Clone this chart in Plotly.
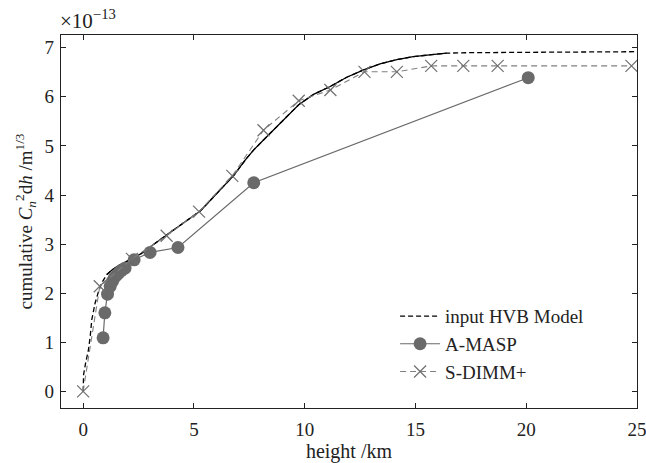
import plotly.graph_objects as go

# ---- data (values in units of 1e-13 m^(1/3)) ----
hvb_h = [0, 0.02, 0.1, 0.24, 0.32, 0.39, 0.54, 0.69, 0.85, 1.07, 1.3, 1.6, 2.04, 2.6, 3.05,
         3.72, 4.4, 5.3, 6.2, 6.8, 7.33, 7.7, 8.14, 8.9, 9.73, 10.4, 11.15, 11.9, 12.66,
         13.4, 14.16, 14.9, 15.66, 16.4, 17.46, 20.0, 25.0]
hvb_v = [0, 0.34, 0.55, 0.85, 1.12, 1.46, 1.80, 2.03, 2.22, 2.38, 2.47, 2.56, 2.66, 2.80, 2.95,
         3.16, 3.39, 3.68, 4.10, 4.40, 4.72, 4.92, 5.12, 5.47, 5.84, 6.05, 6.21, 6.40, 6.55,
         6.67, 6.76, 6.82, 6.86, 6.89, 6.90, 6.91, 6.92]

amasp_h = [0.90, 0.98, 1.10, 1.22, 1.32, 1.40, 1.50, 1.60, 1.72, 1.89, 2.30, 3.02, 4.28, 7.70, 20.09]
amasp_v = [1.09, 1.60, 1.98, 2.14, 2.24, 2.31, 2.36, 2.41, 2.46, 2.51, 2.68, 2.83, 2.93, 4.25, 6.39]

sdimm_h = [0, 0.75, 2.2, 3.77, 5.23, 6.73, 8.14, 9.73, 11.16, 12.70, 14.16, 15.71, 17.16, 18.71, 24.75]
sdimm_v = [0, 2.14, 2.70, 3.17, 3.66, 4.39, 5.32, 5.92, 6.14, 6.51, 6.51, 6.63, 6.63, 6.63, 6.63]

x_ticks = [0, 5, 10, 15, 20, 25]
y_ticks = [0, 1, 2, 3, 4, 5, 6, 7]

FONT = "Liberation Serif, Times New Roman, DejaVu Serif, serif"
TXT = "#222"

fig = go.Figure()

fig.add_trace(go.Scatter(
    x=hvb_h, y=hvb_v, mode="lines", name="input HVB Model",
    line=dict(color="black", width=1.3, dash="5px,3px")))

# dense (staircase-looking) middle part of the model curve
mid = [i for i, h in enumerate(hvb_h) if 1.0 <= h <= 16.4]
fig.add_trace(go.Scatter(
    x=[hvb_h[i] for i in mid], y=[hvb_v[i] for i in mid], mode="lines",
    showlegend=False, hoverinfo="skip",
    line=dict(color="black", width=1.3)))

fig.add_trace(go.Scatter(
    x=amasp_h, y=amasp_v, mode="lines+markers", name="A-MASP",
    line=dict(color="#6a6a6a", width=1.2),
    marker=dict(symbol="circle", size=13, color="#6a6a6a")))

fig.add_trace(go.Scatter(
    x=sdimm_h, y=sdimm_v, mode="lines+markers", name="S-DIMM+",
    line=dict(color="#808080", width=1.1, dash="6px,4px"),
    marker=dict(symbol="x-thin-open", size=12, color="#707070",
                line=dict(color="#707070", width=1.2))))

axis_common = dict(
    showgrid=False, zeroline=False, showline=True, linecolor=TXT, linewidth=1.2,
    mirror="allticks", ticks="inside", ticklen=5, tickcolor=TXT, tickwidth=1,
    automargin=False, ticklabeloverflow="allow",
    tickfont=dict(family=FONT, size=19, color=TXT))

fig.update_xaxes(range=[-1, 25], tickvals=x_ticks, ticklabelstandoff=4,
                 title=dict(text="height /km", font=dict(family=FONT, size=20, color=TXT),
                            standoff=4),
                 **axis_common)
fig.update_yaxes(range=[-0.34, 7.26], tickvals=y_ticks, ticklabelstandoff=2,
                 title=dict(text="cumulative <i>C</i><sub><i>n</i></sub><sup>2</sup>d<i>h</i> /m<sup>1/3</sup>",
                            font=dict(family=FONT, size=19, color=TXT), standoff=6),
                 **axis_common)

fig.add_annotation(xref="paper", yref="paper", x=0, y=1.0, xanchor="left", yanchor="bottom",
                   yshift=0, xshift=-3,
                   text="×10<sup>−13</sup>", showarrow=False,
                   font=dict(family=FONT, size=21, color=TXT))

fig.update_layout(
    width=646, height=463,
    margin=dict(l=61, r=9, t=35, b=55),
    paper_bgcolor="white", plot_bgcolor="white",
    font=dict(family=FONT, size=19, color=TXT),
    legend=dict(x=0.58, y=0.297, xanchor="left", yanchor="top",
                bgcolor="rgba(0,0,0,0)", font=dict(family=FONT, size=19, color=TXT),
                tracegroupgap=0, itemwidth=40),
)

fig.write_html("out.html", config={"displayModeBar": False},
               post_script="document.body.style.margin='0';document.body.style.overflow='hidden';")
